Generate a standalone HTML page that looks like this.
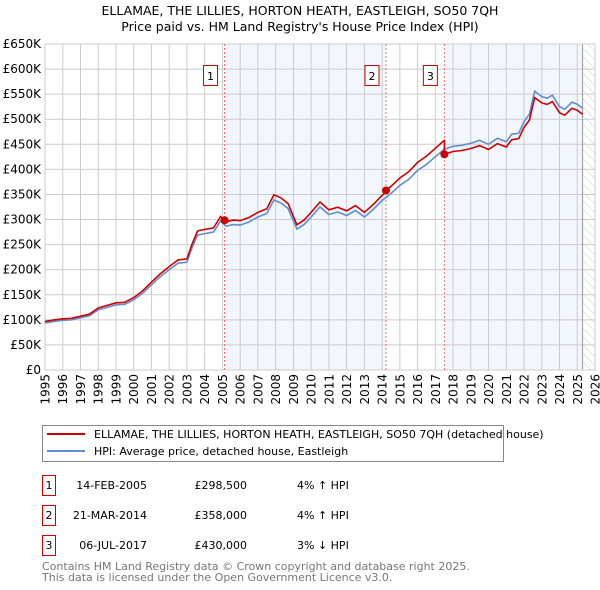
<!DOCTYPE html>
<html><head><meta charset="utf-8"><style>
body{margin:0;background:#fff;}
svg{display:block;font-family:"DejaVu Sans","Liberation Sans",sans-serif;}
</style></head><body>
<svg id="chart" width="600" height="590" viewBox="0 0 600 590">
<defs><pattern id="hatch" width="6" height="6" patternUnits="userSpaceOnUse" patternTransform="rotate(-45)"><line x1="0" y1="0" x2="0" y2="6" stroke="#ccc" stroke-width="1"/></pattern></defs>
<text x="300" y="15" text-anchor="middle" font-size="12.5" fill="#000">ELLAMAE, THE LILLIES, HORTON HEATH, EASTLEIGH, SO50 7QH</text>
<text x="300" y="31" text-anchor="middle" font-size="12.5" fill="#000">Price paid vs. HM Land Registry's House Price Index (HPI)</text>
<g id="plot"></g>
<g>
<rect x="42.5" y="425.5" width="461" height="36" fill="#fff" stroke="#888"/>
<line x1="47" y1="434" x2="85" y2="434" stroke="#cc0000" stroke-width="2"/>
<text x="94" y="438" font-size="11">ELLAMAE, THE LILLIES, HORTON HEATH, EASTLEIGH, SO50 7QH (detached house)</text>
<line x1="47" y1="451" x2="85" y2="451" stroke="#5f8fd0" stroke-width="2"/>
<text x="94" y="455" font-size="11">HPI: Average price, detached house, Eastleigh</text>
</g>
<g font-size="11">
<g><rect x="42.5" y="475.5" width="13" height="20" fill="#fff" stroke="#cc0000"/><text x="49" y="489" text-anchor="middle">1</text><text x="147" y="489" text-anchor="end">14-FEB-2005</text><text x="247" y="489" text-anchor="end">£298,500</text><text x="297" y="489">4% ↑ HPI</text></g>
<g><rect x="42.5" y="505.5" width="13" height="20" fill="#fff" stroke="#cc0000"/><text x="49" y="519" text-anchor="middle">2</text><text x="147" y="519" text-anchor="end">21-MAR-2014</text><text x="247" y="519" text-anchor="end">£358,000</text><text x="297" y="519">4% ↑ HPI</text></g>
<g><rect x="42.5" y="535.5" width="13" height="20" fill="#fff" stroke="#cc0000"/><text x="49" y="549" text-anchor="middle">3</text><text x="147" y="549" text-anchor="end">06-JUL-2017</text><text x="247" y="549" text-anchor="end">£430,000</text><text x="297" y="549">3% ↓ HPI</text></g>
</g>
<text x="42" y="570" font-size="11" fill="#777">Contains HM Land Registry data © Crown copyright and database right 2025.</text>
<text x="42" y="581" font-size="11" fill="#777">This data is licensed under the Open Government Licence v3.0.</text>
</svg>
<script>
const hpiDates=[1995,1995.5,1996,1996.5,1997,1997.5,1998,1998.5,1999,1999.5,2000,2000.5,2001,2001.5,2002,2002.5,2003,2003.3,2003.6,2004,2004.5,2004.9,2005.2,2005.6,2006,2006.5,2007,2007.5,2007.9,2008.3,2008.7,2009.2,2009.6,2010,2010.5,2011,2011.5,2012,2012.5,2013,2013.5,2014,2014.5,2015,2015.5,2016,2016.5,2017,2017.5,2018,2018.5,2019,2019.5,2020,2020.5,2021,2021.3,2021.7,2022,2022.3,2022.6,2023,2023.3,2023.6,2024,2024.3,2024.7,2025,2025.3];
const hpiValues=[94,97,99,100,104,108,120,125,130,131,140,153,170,186,200,213,215,245,269,272,275,297,287,290,289,295,305,312,339,333,322,281,290,305,325,310,315,308,318,305,320,338,352,368,380,398,410,425,440,446,448,452,458,450,462,455,470,472,495,510,556,545,542,548,525,520,534,530,522];
const saleDates=[2005.12,2014.22,2017.51];
const salePrices=[298.5,358,430];
const saleLabels=["1","2","3"];
const yTicks=[0,50,100,150,200,250,300,350,400,450,500,550,600,650];
const xTicks=[1995,1996,1997,1998,1999,2000,2001,2002,2003,2004,2005,2006,2007,2008,2009,2010,2011,2012,2013,2014,2015,2016,2017,2018,2019,2020,2021,2022,2023,2024,2025,2026];

const X0=45,X1=595,Y0=370,Y1=44;
const xs=t=>X0+(t-1995)/(2026-1995)*(X1-X0);
const ys=v=>Y0-v/650*(Y0-Y1);
const NS="http://www.w3.org/2000/svg";
const plot=document.getElementById('plot');
function mk(tag,attrs,parent){const e=document.createElementNS(NS,tag);for(const k in attrs)e.setAttribute(k,attrs[k]);(parent||plot).appendChild(e);return e;}
function hpiAt(t){for(let i=0;i<hpiDates.length-1;i++){if(t>=hpiDates[i]&&t<=hpiDates[i+1]){const f=(t-hpiDates[i])/(hpiDates[i+1]-hpiDates[i]);return hpiValues[i]+f*(hpiValues[i+1]-hpiValues[i]);}}return hpiValues[hpiValues.length-1];}

let e=mk('rect',{x:X0,y:Y1,width:X1-X0,height:Y0-Y1,fill:'#fff'});


e=mk('rect',{x:xs(saleDates[0]),y:Y1,width:xs(saleDates[1])-xs(saleDates[0]),height:Y0-Y1,fill:'#f2f6fd'});


e=mk('rect',{x:xs(saleDates[2]),y:Y1,width:xs(2025.3)-xs(saleDates[2]),height:Y0-Y1,fill:'#f2f6fd'});


e=mk('rect',{x:xs(2025.3),y:Y1,width:X1-xs(2025.3),height:Y0-Y1,fill:'url(#hatch)'});



yTicks.forEach(v=>{
  const g=mk('line',{x1:X0,x2:X1,y1:ys(v),y2:ys(v),stroke:'#ccc','stroke-width':1});
  
  
  const t=mk('text',{x:X0-4,y:ys(v)+4,'text-anchor':'end','font-size':12});
  
  
  t.textContent=v===0?'£0':'£'+v+'K';
});
xTicks.forEach(yr=>{
  const g=mk('line',{x1:xs(yr),x2:xs(yr),y1:Y1,y2:Y0,stroke:'#ccc','stroke-width':1});
  
  
  const tx=xs(yr)+4.5, ty=Y0+4;
  const t=mk('text',{x:tx,y:ty,'text-anchor':'end','font-size':12,transform:'rotate(-90 '+tx+' '+ty+')'});
  
  
  t.textContent=yr;
});
e=mk('line',{x1:xs(2025.3),x2:xs(2025.3),y1:Y1,y2:Y0,stroke:'#999','stroke-width':1});


e=mk('rect',{x:X0,y:Y1,width:X1-X0,height:Y0-Y1,fill:'none',stroke:'#ccc'});



saleDates.forEach((d,i)=>{
  const l=mk('line',{x1:xs(d),x2:xs(d),y1:Y1,y2:Y0,stroke:'#f07070','stroke-width':1,'stroke-dasharray':'2,2'});
  
  
  const b=mk('rect',{x:xs(d)-21,y:65.5,width:14,height:20,fill:'#fff',stroke:'#cc0000'});
  
  
  const t=mk('text',{x:xs(d)-14,y:80,'text-anchor':'middle','font-size':11});
  
  
  t.textContent=saleLabels[i];
});

let pts=hpiDates.map((d,i)=>xs(d).toFixed(1)+','+ys(hpiValues[i]).toFixed(1)).join(' ');
e=mk('polyline',{points:pts,fill:'none',stroke:'#5f8fd0','stroke-width':1.6});



const ratios=saleDates.map((d,i)=>salePrices[i]/hpiAt(d));
function ratioAt(t){let r=ratios[0];for(let i=0;i<saleDates.length;i++)if(t>=saleDates[i])r=ratios[i];return r;}
let all=hpiDates.concat(saleDates).sort((a,b)=>a-b);
let rp=[];
all.forEach(t=>{
  saleDates.forEach((d,i)=>{if(t===d&&i>0)rp.push([t,hpiAt(t)*ratios[i-1]]);});
  rp.push([t,hpiAt(t)*ratioAt(t)]);
});
e=mk('polyline',{points:rp.map(p=>xs(p[0]).toFixed(1)+','+ys(p[1]).toFixed(1)).join(' '),fill:'none',stroke:'#cc0000','stroke-width':1.6});



saleDates.forEach((d,i)=>{
  const c=mk('circle',{cx:xs(d),cy:ys(salePrices[i]),r:4,fill:'#cc0000'});
  
  
});
</script>
</body></html>
